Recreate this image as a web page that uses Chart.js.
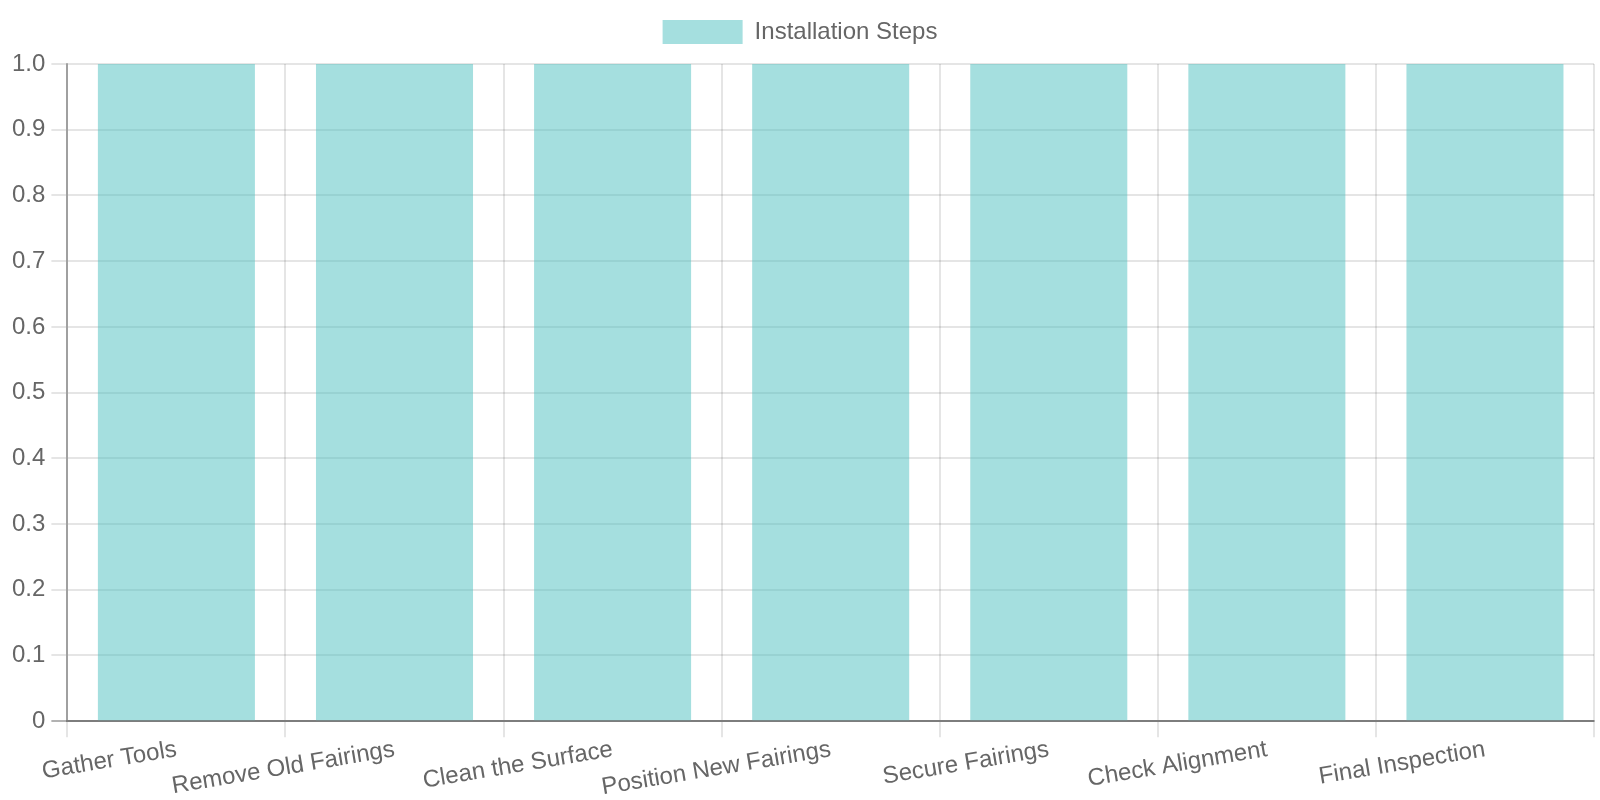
<!DOCTYPE html>
<html>
<head>
<meta charset="utf-8">
<script src="https://cdn.jsdelivr.net/npm/chart.js@4"></script>
<style>
  html, body { margin: 0; padding: 0; background: #fff; }
  #wrap { width: 1600px; height: 800px; }
</style>
</head>
<body>
<div id="wrap"><canvas id="chart"></canvas></div>
<script>
const categories = ['Gather Tools', 'Remove Old Fairings', 'Clean the Surface', 'Position New Fairings', 'Secure Fairings', 'Check Alignment', 'Final Inspection'];
const stepValues = [1, 1, 1, 1, 1, 1, 1];
const seriesLabel = 'Installation Steps';

// everything doubled: reference looks like an 800x400 chart at pixel ratio 2
const S = 2;
Chart.defaults.font.size = 12 * S;
Chart.defaults.color = '#666';

const gridColor = 'rgba(0, 0, 0, 0.1)';
const axisColor = 'rgba(0, 0, 0, 0.3)';

// a bit more room under the legend
const legendGap = {
  id: 'legendGap',
  beforeInit(chart) {
    const fit = chart.legend.fit;
    chart.legend.fit = function () {
      fit.bind(chart.legend)();
      this.height += 10;
    };
  }
};

const ctx = document.getElementById('chart').getContext('2d');
new Chart(ctx, {
  type: 'bar',
  data: {
    labels: categories,
    datasets: [{
      label: seriesLabel,
      data: stepValues,
      backgroundColor: 'rgba(75, 192, 192, 0.5)',
      borderWidth: 0
    }]
  },
  options: {
    responsive: true,
    maintainAspectRatio: false,
    animation: false,
    layout: { padding: { left: 6, right: 6, top: 0, bottom: 0 } },
    plugins: {
      legend: {
        labels: { boxWidth: 40 * S, padding: 10 * S }
      },
      tooltip: { enabled: false }
    },
    scales: {
      x: {
        grid: { lineWidth: S, tickLength: 8 * S, color: gridColor },
        border: { width: S, color: axisColor },
        // rotated labels sit up inside the tick marks, as in the reference
        ticks: { padding: -2 }
      },
      y: {
        beginAtZero: true,
        grid: {
          lineWidth: S,
          tickLength: 8 * S,
          color: (c) => (c.tick && c.tick.value === 0 ? axisColor : gridColor)
        },
        border: { width: S, color: axisColor },
        ticks: { padding: 3 * S }
      }
    }
  },
  plugins: [legendGap]
});
</script>
</body>
</html>
